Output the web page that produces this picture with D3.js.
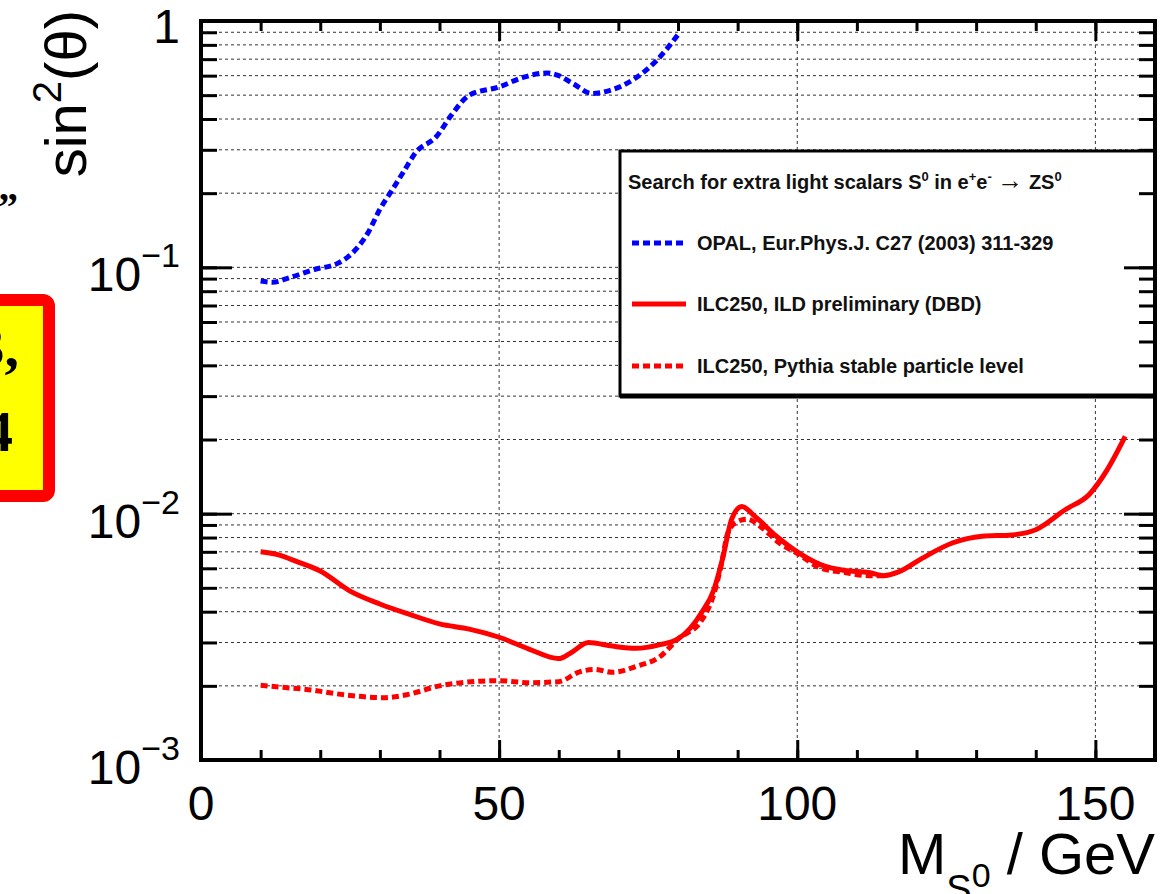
<!DOCTYPE html>
<html><head><meta charset="utf-8">
<script src="https://cdn.jsdelivr.net/npm/d3@7"></script>
<style>body{margin:0;background:#fff} svg{display:block;background:#fff}</style>
</head><body><svg id="c" width="1165" height="894"></svg>
<script>
// ---------------- data ----------------
const opalMass  = [10, 12, 15, 19, 23, 25, 28, 30, 32, 34, 36, 39.5, 42, 45, 50, 54, 58, 60, 62.5, 65.5, 68.5, 72.5, 76.5, 80];
const opalLimit = [0.088, 0.087, 0.091, 0.098, 0.104, 0.112, 0.138, 0.172, 0.205, 0.245, 0.292, 0.34, 0.415, 0.50, 0.54, 0.59, 0.615, 0.60, 0.555, 0.508, 0.522, 0.578, 0.695, 0.88];

const ildMass  = [10, 13, 16, 20, 25, 30, 35, 40, 45, 50, 55, 60, 62, 65, 69, 73, 77, 80, 84, 86, 87.5, 89, 90.7, 93, 96.5, 100, 104, 108, 112, 114.5, 117, 121, 126, 131, 136, 140, 145, 149, 152, 155];
const ildLimit = [0.0070, 0.0068, 0.0064, 0.00585, 0.00485, 0.0043, 0.0039, 0.00357, 0.0034, 0.00315, 0.00282, 0.00258, 0.00272, 0.0030, 0.0029, 0.00284, 0.00294, 0.0031, 0.00398, 0.0049, 0.0066, 0.0095, 0.0107, 0.0097, 0.0081, 0.0070, 0.0062, 0.00588, 0.00577, 0.0056, 0.0058, 0.0066, 0.0076, 0.0081, 0.0082, 0.0086, 0.0104, 0.0120, 0.0151, 0.0206];

const pythiaMass  = [10, 14, 18, 24, 30.5, 34.5, 40, 44.5, 50, 55, 60, 63.5, 66, 69, 73, 77, 80, 84, 86, 87.2, 88.4, 90, 91.6, 94, 97, 100, 104, 108, 112, 114.5];
const pythiaLimit = [0.00201, 0.00197, 0.00193, 0.00184, 0.00179, 0.00184, 0.0020, 0.00207, 0.0021, 0.00206, 0.00208, 0.00228, 0.00233, 0.00227, 0.0024, 0.00263, 0.0031, 0.0037, 0.0047, 0.0061, 0.0084, 0.0093, 0.0095, 0.0088, 0.0076, 0.0069, 0.0060, 0.00577, 0.0056, 0.0056];

const xMinorTicks = [0,10,20,30,40,50,60,70,80,90,100,110,120,130,140,150,160];
const xMajorTicks = [0, 50, 100, 150];
const xTickLabels = ["0", "50", "100", "150"];
const yMajorTicks = [0.001, 0.01, 0.1, 1];
const yTickBase = ["10", "10", "10", "1"];
const yTickExp  = ["\u22123", "\u22122", "\u22121", ""];
const xGridValues = [50, 100, 150];

// [text, kind] kind: 0 normal, 1 superscript, 2 large symbol
const legendTitleParts = [["Search for extra light scalars S",0],["0",1],[" in e",0],["+",1],["e",0],["-",1],[" ",0],["\u2192",2],[" ZS",0],["0",1]];
const legendLabels = ["OPAL, Eur.Phys.J. C27 (2003) 311-329", "ILC250, ILD preliminary (DBD)", "ILC250, Pythia stable particle level"];
const yTitle = ["sin", "2", "(\u03B8)"];
const xTitle = ["M", "S", "0", " / GeV"];

// ---------------- drawing ----------------
const svg = d3.select("#c");
const FONT = "'Liberation Sans', Arial, Helvetica, sans-serif";
const x = d3.scaleLinear().domain([0, 160]).range([201, 1155]);
const y = d3.scaleLog().domain([1e-3, 1]).range([760, 21]);

const yMinorTicks = [];
[-3, -2, -1].forEach(n => { for (let k = 1; k <= 9; k++) yMinorTicks.push(+(k * Math.pow(10, n)).toPrecision(3)); });
yMinorTicks.push(1);

// slide fragments on the left
svg.append("text").attr("x", 18).attr("y", 220).attr("text-anchor", "end")
  .attr("font-family", "'Liberation Serif', 'Times New Roman', serif").attr("font-weight", "bold")
  .attr("font-size", 40).text("\u2019\u201D");
svg.append("rect").attr("x", -20).attr("y", 300).attr("width", 69).attr("height", 196)
  .attr("rx", 6).attr("fill", "#ffff00").attr("stroke", "#ff0000").attr("stroke-width", 12);
svg.append("text").attr("x", 19).attr("y", 366).attr("text-anchor", "end")
  .attr("font-family", "'Liberation Serif', 'Times New Roman', serif").attr("font-weight", "bold")
  .attr("font-size", 58).text("3,");
svg.append("text").attr("x", 13).attr("y", 451).attr("text-anchor", "end")
  .attr("font-family", "'Liberation Serif', 'Times New Roman', serif").attr("font-weight", "bold")
  .attr("font-size", 58).text("4");

// grid
const grid = svg.append("g").attr("stroke", "#333").attr("stroke-width", 1).attr("stroke-dasharray", "3,3");
grid.selectAll("line.h").data(yMinorTicks.filter(v => v > 1e-3 && v < 1)).join("line").attr("class", "h")
  .attr("x1", x(0)).attr("x2", x(160)).attr("y1", d => y(d)).attr("y2", d => y(d));
grid.selectAll("line.v").data(xGridValues).join("line").attr("class", "v")
  .attr("x1", d => x(d)).attr("x2", d => x(d)).attr("y1", y(1)).attr("y2", y(1e-3));

// curves
const line = d3.line().x(d => x(d[0])).y(d => y(d[1])).curve(d3.curveMonotoneX);
const zip = (a, b) => a.map((v, i) => [v, b[i]]);
svg.append("path").datum(zip(pythiaMass, pythiaLimit)).attr("d", line).attr("fill", "none")
  .attr("stroke", "#ff0000").attr("stroke-width", 5).attr("stroke-dasharray", "7,4");
svg.append("path").datum(zip(ildMass, ildLimit)).attr("d", line).attr("fill", "none")
  .attr("stroke", "#ff0000").attr("stroke-width", 5).attr("stroke-linejoin", "round");
svg.append("path").datum(zip(opalMass, opalLimit)).attr("d", line).attr("fill", "none")
  .attr("stroke", "#0000ff").attr("stroke-width", 5).attr("stroke-dasharray", "7,4");

// legend
const lg = svg.append("g");
lg.append("rect").attr("x", 620).attr("y", 151).attr("width", 535).attr("height", 245)
  .attr("fill", "#fff").attr("stroke", "#000").attr("stroke-width", 3);
lg.append("line").attr("x1", 620).attr("x2", 1155).attr("y1", 396).attr("y2", 396).attr("stroke", "#000").attr("stroke-width", 5);
const tt = lg.append("text").attr("x", 628).attr("y", 189).attr("font-family", FONT).attr("font-weight", "bold")
  .attr("font-size", 20).attr("fill", "#111");
legendTitleParts.forEach(([s, kind], i) => {
  const prev = i > 0 ? legendTitleParts[i - 1][1] : 0;
  const isSup = kind === 1, prevSup = prev === 1;
  const t = tt.append("tspan").text(s).attr("dy", isSup && !prevSup ? -8 : (!isSup && prevSup ? 8 : 0));
  if (isSup) t.attr("font-size", 13);
  if (kind === 2) t.attr("font-size", 26).attr("font-weight", "normal");
});
const entryY = [243, 304, 366];
const entryStyle = [["#0000ff", "7,4"], ["#ff0000", null], ["#ff0000", "7,4"]];
legendLabels.forEach((lab, i) => {
  const l = lg.append("line").attr("x1", 632).attr("x2", 686).attr("y1", entryY[i]).attr("y2", entryY[i])
    .attr("stroke", entryStyle[i][0]).attr("stroke-width", 5);
  if (entryStyle[i][1]) l.attr("stroke-dasharray", entryStyle[i][1]);
  lg.append("text").attr("x", 697).attr("y", entryY[i] + 7).attr("font-family", FONT).attr("font-weight", "bold")
    .attr("font-size", 20).attr("fill", "#111").text(lab);
});

// ticks (inward on all four sides)
function ticks(axis, tx, ty) {
  svg.append("g").attr("transform", `translate(${tx},${ty})`).call(axis)
    .call(g => g.select(".domain").remove())
    .call(g => g.selectAll("line").attr("stroke", "#000").attr("stroke-width", 3));
}
ticks(d3.axisLeft(y).tickValues(yMinorTicks).tickSize(-16).tickFormat(""), x(0), 0);
ticks(d3.axisLeft(y).tickValues(yMajorTicks).tickSize(-31).tickFormat(""), x(0), 0);
ticks(d3.axisRight(y).tickValues(yMinorTicks).tickSize(-16).tickFormat(""), x(160), 0);
ticks(d3.axisRight(y).tickValues(yMajorTicks).tickSize(-31).tickFormat(""), x(160), 0);
ticks(d3.axisBottom(x).tickValues(xMinorTicks).tickSize(-10).tickFormat(""), 0, y(1e-3));
ticks(d3.axisBottom(x).tickValues(xMajorTicks).tickSize(-20).tickFormat(""), 0, y(1e-3));
ticks(d3.axisTop(x).tickValues(xMinorTicks).tickSize(-10).tickFormat(""), 0, y(1));
ticks(d3.axisTop(x).tickValues(xMajorTicks).tickSize(-20).tickFormat(""), 0, y(1));

// frame
svg.append("rect").attr("x", x(0)).attr("y", y(1)).attr("width", x(160) - x(0)).attr("height", y(1e-3) - y(1))
  .attr("fill", "none").attr("stroke", "#000").attr("stroke-width", 4);

// tick labels
xMajorTicks.forEach((v, i) => {
  svg.append("text").attr("x", x(v)).attr("y", 820).attr("text-anchor", "middle")
    .attr("font-family", FONT).attr("font-size", 48).attr("fill", "#000").text(xTickLabels[i]);
});
yMajorTicks.forEach((v, i) => {
  const t = svg.append("text").attr("x", 180).attr("y", y(v) + (yTickExp[i] ? 24 : 22)).attr("text-anchor", "end")
    .attr("font-family", FONT).attr("font-size", 48).attr("fill", "#000");
  t.append("tspan").text(yTickBase[i]);
  if (yTickExp[i]) t.append("tspan").attr("font-size", 34).attr("dy", -24).text(yTickExp[i]);
});

// axis titles
const yt = svg.append("text").attr("transform", "translate(86,10) rotate(-90)").attr("text-anchor", "end")
  .attr("font-family", FONT).attr("font-size", 58).attr("fill", "#000");
yt.append("tspan").text(yTitle[0]);
yt.append("tspan").attr("font-size", 40).attr("dy", -25).text(yTitle[1]);
yt.append("tspan").attr("dy", 25).text(yTitle[2]);

const xt = svg.append("text").attr("x", 1155).attr("y", 874).attr("text-anchor", "end")
  .attr("font-family", FONT).attr("font-size", 58).attr("fill", "#000");
xt.append("tspan").text(xTitle[0]);
xt.append("tspan").attr("font-size", 38).attr("dy", 28).text(xTitle[1]);
xt.append("tspan").attr("font-size", 34).attr("dy", -15).text(xTitle[2]);
xt.append("tspan").attr("dy", -13).text(xTitle[3]);
</script>
</body></html>
